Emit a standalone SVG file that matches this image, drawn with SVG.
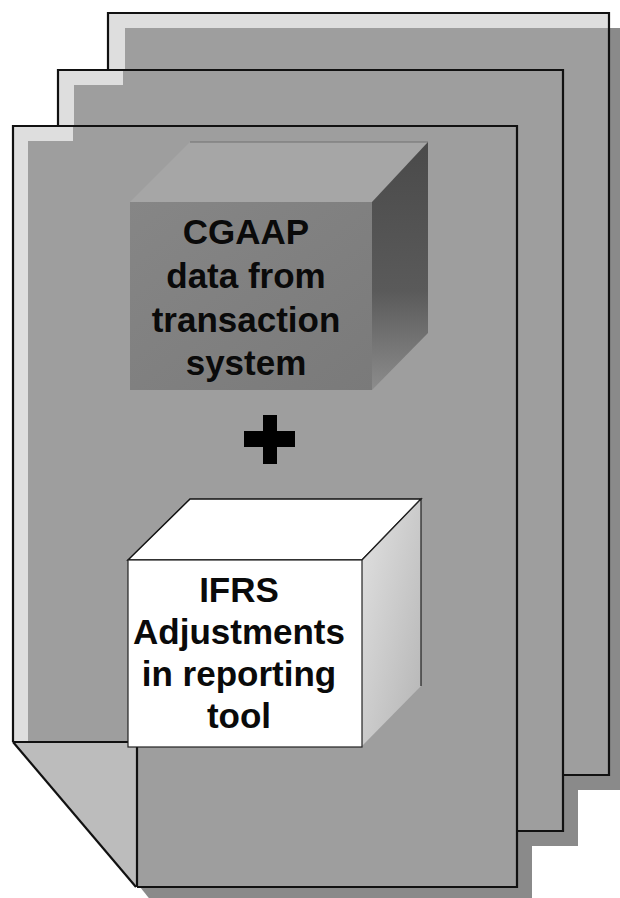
<svg xmlns="http://www.w3.org/2000/svg" width="620" height="898" viewBox="0 0 620 898">
  <style>
    .face { fill: #9e9e9e; }
    .band { fill: #dedede; }
    .shadow { fill: #8a8a8a; }
    .edge { fill: none; stroke: #111; stroke-width: 2.2; stroke-linejoin: miter; }
    .thin { fill: none; stroke: #222; stroke-width: 1.2; }
    .label { font-family: "Liberation Sans", Arial, sans-serif; font-weight: bold; font-size: 35px; fill: #0a0a0a; text-anchor: middle; }
  </style>
  <defs>
    <linearGradient id="cgaapSide" x1="0" y1="0" x2="0" y2="1">
      <stop offset="0" stop-color="#4a4a4a"/>
      <stop offset="0.6" stop-color="#5a5a5a"/>
      <stop offset="1" stop-color="#8c8c8c"/>
    </linearGradient>
    <linearGradient id="cgaapFront" x1="0" y1="0" x2="1" y2="1">
      <stop offset="0" stop-color="#868686"/>
      <stop offset="1" stop-color="#7a7a7a"/>
    </linearGradient>
    <linearGradient id="ifrsSide" x1="0" y1="0" x2="1" y2="1">
      <stop offset="0" stop-color="#e2e2e2"/>
      <stop offset="1" stop-color="#b4b4b4"/>
    </linearGradient>
  </defs>

  <rect width="620" height="898" fill="#ffffff"/>

  <!-- slab thickness along the right and bottom of each sheet -->
  <g id="sheet-shadows">
    <path class="shadow" d="M609 28 H625 V790 H250 V775 H609 Z"/>
    <path class="shadow" d="M563 85 H578 V846 H200 V831 H563 Z"/>
    <path class="shadow" d="M517 141 H532 V902 H152 L140 887 Z"/>
  </g>

  <!-- back sheet -->
  <g id="sheet-back">
    <path class="face" d="M108 13 H609 V775 H232 L108 630 Z"/>
    <rect class="band" x="108" y="13" width="501" height="15"/>
    <rect class="band" x="108" y="13" width="17" height="617"/>
    <path class="edge" d="M108 630 V13 H609 V775 H232"/>
  </g>

  <!-- middle sheet -->
  <g id="sheet-middle">
    <path class="face" d="M58 70 H563 V831 H182 L58 686 Z"/>
    <rect class="band" x="58" y="70" width="65" height="15"/>
    <rect class="band" x="58" y="70" width="16" height="616"/>
    <path class="edge" d="M58 686 V70 H563 V831 H182"/>
  </g>

  <!-- front sheet with folded lower-left corner -->
  <g id="sheet-front">
    <path class="face" d="M13 126 H517 V887 H137 V748 L128 742 H13 Z"/>
    <rect class="band" x="13" y="126" width="60" height="15"/>
    <rect class="band" x="13" y="126" width="15" height="616"/>
    <path d="M13 742 H128 L137 748 V887 H136 Z" fill="#bcbcbc"/>
    <path class="edge" d="M13 742 V126 H517 V887 H137"/>
    <path class="edge" d="M13 742 H128"/>
    <path class="edge" d="M13 742 L136 887"/>
    <path class="edge" d="M137 747 V887"/>
  </g>

  <!-- CGAAP data cube -->
  <g id="cube-cgaap">
    <path d="M130 202 L190 142 H428 L372 202 Z" fill="#a6a6a6"/>
    <path d="M190 142 H428" fill="none" stroke="#707070" stroke-width="1"/>
    <path d="M372 202 L428 142 V333 L372 390 Z" fill="url(#cgaapSide)"/>
    <rect x="130" y="202" width="242" height="188" fill="url(#cgaapFront)"/>
    <text class="label" x="246" y="244">CGAAP</text>
    <text class="label" x="246" y="288">data from</text>
    <text class="label" x="246" y="332">transaction</text>
    <text class="label" x="246" y="375">system</text>
  </g>

  <!-- plus sign -->
  <g id="plus">
    <rect x="244" y="431" width="51" height="16" fill="#000"/>
    <rect x="263" y="415" width="14" height="49" fill="#000"/>
  </g>

  <!-- IFRS adjustments cube -->
  <g id="cube-ifrs">
    <path d="M128 560 L190 499 H421 L362 560 Z" fill="#ffffff" stroke="#111" stroke-width="1.5"/>
    <path d="M362 560 L421 499 V686 L362 746 Z" fill="url(#ifrsSide)"/>
    <path d="M362 560 L421 499 V686" class="thin"/>
    <rect x="128" y="560" width="234" height="187" fill="#ffffff" stroke="#222" stroke-width="1.2"/>
    <text class="label" x="239" y="602">IFRS</text>
    <text class="label" x="239" y="644">Adjustments</text>
    <text class="label" x="239" y="686">in reporting</text>
    <text class="label" x="239" y="728">tool</text>
  </g>
</svg>
